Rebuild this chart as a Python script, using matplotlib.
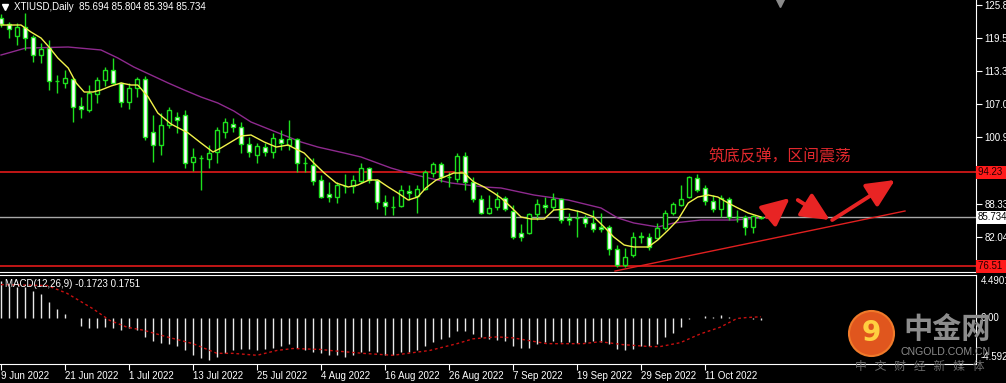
import matplotlib.pyplot as plt
from matplotlib.patches import Ellipse

plt.rcParams['font.family'] = ['Liberation Sans', 'DejaVu Sans']

title = 'XTIUSD,Daily  85.694 85.804 85.394 85.734'
macd_title = 'MACD(12,26,9) -0.1723 0.1751'
note = '筑底反弹，区间震荡'

# daily candles, one per weekday from 9 Jun 2022
opens = [123.34, 122.21, 119.95, 121.65, 119.76, 116.36, 117.68, 111.46, 111.08, 111.83,
         106.74, 105.98, 109.00, 111.65, 113.53, 111.08, 107.50, 110.14, 111.83, 101.83,
         99.38, 103.16, 104.67, 105.04, 96.17, 96.93, 96.74, 98.06, 101.83, 103.34,
         102.78, 99.57, 97.49, 99.00, 98.06, 100.51, 99.38, 100.51, 95.99, 95.61,
         92.78, 90.14, 89.57, 91.64, 91.65, 92.59, 95.04, 92.78, 88.63, 87.68,
         87.87, 90.70, 89.76, 91.08, 94.10, 95.80, 93.34, 92.97, 97.31, 92.40,
         89.19, 86.55, 87.68, 89.38, 86.93, 82.78, 82.78, 86.36, 88.06, 87.68,
         89.19, 85.61, 85.61, 85.61, 84.67, 83.91, 83.91, 79.76, 76.74, 78.63,
         82.02, 82.02, 81.83, 83.72, 86.55, 88.06, 89.57, 93.15, 91.27, 88.82,
         87.31, 89.19, 85.80, 85.80, 83.91, 85.694]
highs = [124.10, 122.59, 122.40, 124.29, 120.14, 118.63, 119.19, 112.59, 113.53, 112.02,
         108.44, 110.70, 112.21, 114.10, 115.80, 111.27, 111.08, 112.21, 112.40, 105.04,
         105.42, 106.55, 105.61, 105.98, 98.82, 97.49, 99.38, 102.78, 104.48, 104.48,
         103.72, 100.89, 99.76, 99.76, 101.65, 102.21, 104.10, 100.70, 97.12, 96.93,
         93.72, 92.40, 92.40, 93.91, 93.72, 95.99, 95.23, 92.90, 89.95, 89.76,
         91.83, 91.83, 91.83, 94.66, 96.17, 96.17, 94.29, 97.87, 98.06, 93.34,
         89.95, 89.95, 90.51, 89.76, 88.06, 84.48, 86.55, 89.19, 89.57, 90.33,
         89.38, 86.55, 87.12, 86.18, 87.12, 86.55, 84.29, 80.51, 79.95, 82.97,
         82.97, 82.78, 84.67, 87.12, 88.63, 91.83, 93.53, 93.91, 91.83, 89.95,
         89.95, 89.57, 87.12, 86.18, 86.18, 85.804]
lows = [121.65, 119.57, 118.25, 117.31, 115.04, 114.85, 109.76, 109.19, 110.14, 103.72,
        104.48, 105.61, 107.31, 110.51, 110.89, 106.55, 106.17, 108.44, 100.33, 96.17,
        97.49, 102.59, 101.65, 95.04, 94.48, 90.89, 95.04, 95.99, 100.70, 101.83,
        97.87, 97.12, 95.99, 97.31, 96.93, 98.44, 98.44, 94.29, 94.29, 91.83,
        89.38, 88.63, 88.44, 90.33, 90.33, 92.21, 92.21, 87.31, 86.18, 86.18,
        87.68, 89.00, 86.55, 90.89, 93.34, 92.40, 91.46, 92.40, 90.89, 88.63,
        86.36, 86.40, 87.12, 86.93, 81.65, 81.27, 82.60, 85.23, 86.55, 87.12,
        84.67, 84.29, 82.02, 83.91, 82.97, 82.97, 78.63, 76.36, 76.36, 78.25,
        80.89, 79.57, 81.65, 83.34, 86.18, 87.87, 89.38, 90.51, 88.06, 86.74,
        85.80, 85.23, 84.86, 82.40, 82.78, 85.394]
closes = [122.21, 121.27, 121.65, 119.57, 116.36, 117.49, 111.46, 111.50, 112.02, 106.55,
          106.17, 109.19, 111.65, 113.53, 111.08, 107.50, 110.14, 111.83, 100.89, 99.38,
          103.16, 105.98, 104.10, 95.99, 97.12, 96.97, 97.87, 102.21, 103.72, 102.78,
          99.57, 98.06, 99.19, 98.06, 100.70, 99.76, 100.51, 95.99, 96.04, 92.59,
          89.57, 89.57, 91.83, 91.60, 92.78, 95.04, 92.78, 88.63, 87.87, 87.70,
          90.89, 90.33, 91.08, 94.29, 95.80, 93.34, 93.38, 97.31, 92.40, 89.19,
          86.55, 87.50, 89.19, 87.31, 82.02, 82.02, 86.36, 88.25, 87.68, 89.19,
          85.23, 85.23, 85.63, 84.67, 83.53, 83.53, 79.76, 76.74, 78.25, 82.02,
          82.21, 80.14, 83.72, 86.55, 88.25, 89.19, 93.34, 90.89, 88.82, 87.31,
          89.38, 85.80, 85.84, 83.91, 85.99, 85.734]

# moving averages (bar position, price)
fast_ma_x = [0, 2.5, 3.75, 5, 6, 7.1, 8.4, 9.4, 10.4, 11.5, 12.5, 13.75, 15, 16.25, 17.1,
             18.4, 19.6, 21.25, 23.4, 25, 26.5, 27.5, 28.75, 30, 31.25, 32.9, 34.4, 35.9,
             36.6, 37.9, 39.1, 40.4, 41.9, 43.4, 44.6, 46, 47.1, 48.4, 49.6, 50.9, 52.1,
             53.1, 54.4, 55.4, 56.6, 57.9, 59.1, 60.4, 61.6, 62.5, 63.75, 65, 66.25, 67.9,
             69.1, 70.9, 72.5, 74.1, 75.4, 76.6, 77.9, 79.1, 80.9, 82.1, 83.4, 84.6, 85.9,
             87.1, 88.4, 89.6, 90.9, 92.1, 93.4, 95]
fast_ma = [122.02, 122.02, 120.70, 119.57, 117.87, 115.80, 113.91, 111.08, 109.38, 109.38,
           109.76, 110.51, 111.08, 110.70, 110.70, 108.44, 105.42, 103.34, 101.65, 99.76,
           98.06, 98.82, 99.95, 101.08, 101.27, 99.95, 99.00, 99.38, 98.82, 97.87, 95.99,
           94.10, 92.21, 91.46, 91.83, 92.78, 92.78, 91.46, 90.33, 89.00, 89.57, 91.27,
           92.78, 93.34, 94.10, 94.10, 92.40, 91.46, 90.33, 89.38, 87.68, 85.80, 85.42,
           85.42, 87.12, 87.31, 86.74, 85.80, 83.91, 82.02, 80.51, 80.14, 80.14, 81.46,
           83.34, 85.23, 88.44, 89.57, 89.95, 89.57, 88.44, 87.50, 86.55, 85.80]
slow_ma_x = [0, 3.1, 8.4, 12.5, 14.6, 16.6, 18.75, 20.9, 22.9, 25, 27.1, 29.1, 31.25, 33.75,
             37.5, 39.6, 42.9, 45, 48.75, 50.9, 52.9, 56.25, 60.4, 62.5, 66.6, 70.9, 75,
             77.1, 79.1, 82.1, 84.1, 87.5, 91.6, 95]
slow_ma = [116.36, 117.68, 117.87, 117.31, 115.80, 114.10, 112.59, 111.08, 109.76, 108.44,
           107.31, 105.80, 103.72, 102.21, 99.95, 99.00, 97.87, 97.12, 95.04, 94.10, 93.34,
           92.21, 91.46, 91.27, 89.95, 89.00, 87.50, 85.61, 84.67, 83.91, 84.67, 85.23,
           85.23, 85.61]

macd_hist = [3.9, 3.4, 3.2, 3.2, 2.8, 2.5, 1.7, 1.0, 0.5, 0.05,
             -0.8, -1.0, -1.0, -0.9, -0.95, -1.2, -1.0, -1.2, -1.9, -2.3,
             -2.5, -2.6, -2.8, -3.3, -3.8, -4.1, -4.3, -4.0, -3.6, -3.3,
             -3.1, -3.1, -3.3, -3.1, -3.0, -2.8, -2.6, -3.0, -3.3, -3.5,
             -3.6, -3.8, -3.8, -4.0, -3.8, -3.5, -3.4, -3.5, -3.8, -3.8,
             -3.5, -3.5, -3.3, -2.8, -2.4, -2.1, -1.9, -1.3, -1.3, -1.6,
             -1.9, -2.1, -2.2, -2.3, -2.8, -3.0, -3.0, -2.6, -2.4, -2.3,
             -2.4, -2.4, -2.5, -2.4, -2.3, -2.4, -2.6, -3.1, -3.3, -3.1,
             -2.8, -2.8, -2.6, -1.9, -1.5, -0.9, -0.1, 0.05, 0.3, 0.15,
             0.4, 0.15, 0.02, 0.05, -0.05, -0.1723]
signal_x = [0, 5.8, 8.25, 11.5, 13.6, 15.75, 17.75, 20.75, 24, 27, 29, 32, 34.5, 36.5, 40,
            41.1, 45.25, 49, 53.6, 57, 59, 62, 64, 68.25, 72.75, 74.9, 77.75, 81.1, 82.4,
            84.9, 87.4, 89.9, 92, 93.25, 95]
signal = [3.5, 3.4, 2.6, 1.0, -0.2, -0.9, -1.2, -1.9, -2.6, -3.6, -3.6, -3.8, -3.3, -3.1,
          -3.2, -3.3, -3.6, -3.8, -3.3, -2.6, -2.1, -1.9, -2.0, -2.6, -2.6, -2.4, -2.7,
          -2.9, -2.9, -2.5, -1.6, -0.9, 0.0, 0.1, 0.1751]

date_ticks = [0, 8, 16, 24, 32, 40, 48, 56, 64, 72, 80, 88]
date_labels = ['9 Jun 2022', '21 Jun 2022', '1 Jul 2022', '13 Jul 2022', '25 Jul 2022',
               '4 Aug 2022', '16 Aug 2022', '26 Aug 2022', '7 Sep 2022', '19 Sep 2022',
               '29 Sep 2022', '11 Oct 2022']
price_ticks = [125.84, 119.56, 113.34, 107.06, 100.97, 88.33, 82.04]
resistance = 94.23
support = 76.51
last_price = 85.734
trend_x = [76.75, 113.0]
trend_y = [75.6, 86.93]
arrow_start = [(95.75, 85.8), (99.6, 89.0), (103.9, 85.23)]
arrow_end = [(98.6, 89.38), (103.6, 85.23), (111.75, 92.78)]

W, H = 1006, 383
fig = plt.figure(figsize=(W / 100, H / 100), dpi=100, facecolor='black')
ax = fig.add_axes([0, 1 - 272 / H, 976 / W, 272 / H])
mx = fig.add_axes([0, 1 - 364 / H, 976 / W, (364 - 275) / H])

green = '#1ee01e'
red = '#d01818'
for a in (ax, mx):
    a.set_facecolor('black')
    a.set_xlim(-0.125, 121.875)
    for s in a.spines.values():
        s.set_color('white')
ax.spines['top'].set_visible(False)
ax.spines['left'].set_visible(False)
mx.spines['left'].set_visible(False)

# candles
xs = list(range(len(opens)))
ax.vlines(xs, lows, highs, color=green, lw=1, zorder=3)
bottoms = [min(o, c) for o, c in zip(opens, closes)]
heights = [max(abs(c - o), 0.03) for o, c in zip(opens, closes)]
faces = ['white' if c < o else 'black' for o, c in zip(opens, closes)]
ax.bar(xs, heights, bottom=bottoms, width=0.6, color=faces, edgecolor=green, lw=1, zorder=4)

ax.plot(fast_ma_x, fast_ma, color='#f2f24a', lw=1, zorder=5)
ax.plot(slow_ma_x, slow_ma, color='#8e2a8e', lw=1, zorder=2)

ax.axhline(resistance, color=red, lw=1.3, zorder=1)
ax.axhline(support, color=red, lw=1.3, zorder=1)
ax.axhline(last_price, color='#a8a8a8', lw=1, zorder=1)
ax.plot(trend_x, trend_y, color='#e02020', lw=1, zorder=5)

for (x0, y0), (x1, y1) in zip(arrow_start, arrow_end):
    ax.annotate('', xy=(x1, y1), xytext=(x0, y0),
                arrowprops=dict(arrowstyle='-|>,head_length=1.7,head_width=0.8',
                                mutation_scale=10, lw=2.8, color='#e82424',
                                shrinkA=0, shrinkB=0), zorder=6)

ax.text(88.4, 97.1, note, color='#e0282d', fontsize=11.4,
        family=['Noto Sans CJK SC', 'DejaVu Sans'], va='center', ha='left')

ax.set_ylim(75.42, 126.74)
ax.set_xticks([])
ax.yaxis.tick_right()
ax.set_yticks(price_ticks)
ax.set_yticklabels([f'{v:.2f}' for v in price_ticks])
ax.tick_params(axis='y', colors='white', labelsize=7, length=4, pad=2)

ytr = ax.get_yaxis_transform()
ax.text(1.002, resistance, '94.23 ', transform=ytr, color='#200000', fontsize=7, va='center',
        bbox=dict(facecolor='#ff1a1a', edgecolor='none', pad=1.2))
ax.text(1.002, support, '76.51 ', transform=ytr, color='#200000', fontsize=7, va='center',
        bbox=dict(facecolor='#ff1a1a', edgecolor='none', pad=1.2))
ax.text(1.002, last_price, '85.734', transform=ytr, color='black', fontsize=7, va='center',
        bbox=dict(facecolor='white', edgecolor='none', pad=1.2))

ax.plot(5 / 976, 1 - 7 / 272, marker='v', color='white', ms=5, transform=ax.transAxes,
        clip_on=False)
ax.plot(780 / 976, 1 - 2 / 272, marker='v', color='#8a8a8a', ms=7, transform=ax.transAxes,
        clip_on=False)
fig.text(14 / W, 1 - 7 / H, title, color='white', fontsize=7, va='center')

# MACD panel
mx.vlines(xs, 0, macd_hist, color='#e8e8e8', lw=1)
mx.plot(signal_x, signal, color='#c81010', lw=1, ls=(0, (2, 2)))
mx.set_ylim(-4.70, 4.49)
mx.set_yticks([])
mx.set_xticks(date_ticks)
mx.set_xticklabels(date_labels)
for lbl in mx.get_xticklabels():
    lbl.set_horizontalalignment('left')
mx.tick_params(axis='x', colors='white', labelsize=7, length=4, pad=1)
mx.text(5 / 976, 0.9, macd_title, transform=mx.transAxes, color='white', fontsize=7,
        va='center')
mtr = mx.get_yaxis_transform()
mx.text(1.005, 0.93, '4.4901', transform=mx.transAxes, color='white', fontsize=7, va='center')
mx.text(1.005, 0.0, '0.00', transform=mtr, color='white', fontsize=7, va='center')
mx.text(1.005, 0.08, '-4.592', transform=mx.transAxes, color='white', fontsize=7, va='center')

# watermark
fig.add_artist(Ellipse((871.5 / W, 1 - 333.5 / H), 45 / W, 45 / H, transform=fig.transFigure,
                       facecolor='#e0561e', edgecolor='#f07a2a', lw=1.5))
fig.text(871.5 / W, 1 - 333 / H, '9', color='#ffd040', fontsize=20, fontweight='bold',
         ha='center', va='center', family='DejaVu Sans')
fig.text(947 / W, 1 - 329 / H, '中金网', color='#8c8c8c', fontsize=21, fontweight='bold',
         ha='center', va='center', family=['Noto Sans CJK SC'])
fig.text(946 / W, 1 - 352 / H, 'CNGOLD.COM.CN', color='#8c8c8c', fontsize=7.6,
         ha='center', va='center')
fig.text(920 / W, 1 - 366 / H, '中   文   财   经   新   媒   体', color='#6c6c6c',
         fontsize=8.5, ha='center', va='center', family=['Noto Sans CJK SC'])

fig.savefig('out.png', dpi=100, facecolor='black')
